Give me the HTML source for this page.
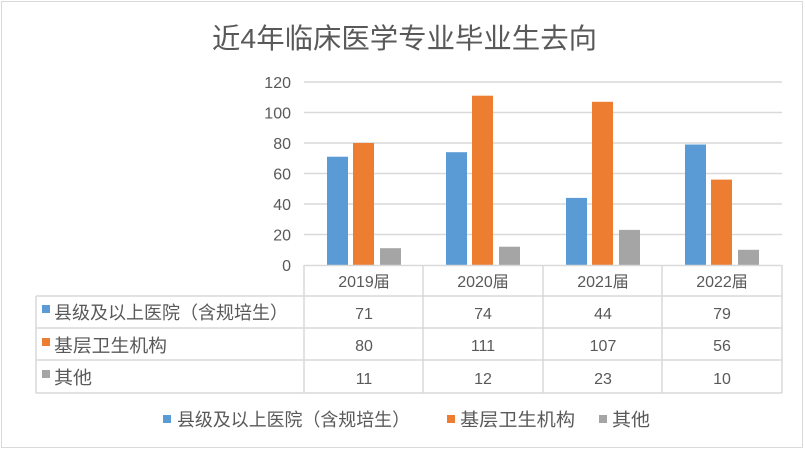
<!DOCTYPE html>
<html><head><meta charset="utf-8"><style>
html,body{margin:0;padding:0;background:#fff;}
svg{display:block;}
text{font-family:"Liberation Sans","Noto Sans CJK SC",sans-serif;fill:#595959;}
</style></head><body>
<svg width="805" height="449" viewBox="0 0 805 449" xmlns="http://www.w3.org/2000/svg">
<rect x="1.5" y="1.5" width="801" height="446" fill="#fff" stroke="#d9d9d9" stroke-width="1"/>
<text x="212" y="48" font-size="28" textLength="385" lengthAdjust="spacingAndGlyphs">近4年临床医学专业毕业生去向</text>
<g stroke="#d9d9d9" stroke-width="1.5">
<line x1="304" y1="82" x2="782" y2="82"/>
<line x1="304" y1="112.5" x2="782" y2="112.5"/>
<line x1="304" y1="143" x2="782" y2="143"/>
<line x1="304" y1="173.5" x2="782" y2="173.5"/>
<line x1="304" y1="204" x2="782" y2="204"/>
<line x1="304" y1="234.5" x2="782" y2="234.5"/>
</g>
<g font-size="16" text-anchor="end">
<text x="291" y="88">120</text><text x="291" y="118.5">100</text><text x="291" y="149">80</text><text x="291" y="179.5">60</text><text x="291" y="210">40</text><text x="291" y="240.5">20</text><text x="291" y="271">0</text>
</g>
<g>
<rect x="327" y="156.7" width="21" height="108.3" fill="#5b9bd5"/>
<rect x="353" y="143" width="21" height="122" fill="#ed7d31"/>
<rect x="380" y="248.2" width="21" height="16.8" fill="#a5a5a5"/>
<rect x="446" y="152.2" width="21" height="112.8" fill="#5b9bd5"/>
<rect x="472" y="95.7" width="21" height="169.3" fill="#ed7d31"/>
<rect x="499" y="246.7" width="21" height="18.3" fill="#a5a5a5"/>
<rect x="566" y="197.9" width="21" height="67.1" fill="#5b9bd5"/>
<rect x="592" y="101.8" width="21" height="163.2" fill="#ed7d31"/>
<rect x="619" y="229.9" width="21" height="35.1" fill="#a5a5a5"/>
<rect x="685" y="144.5" width="21" height="120.5" fill="#5b9bd5"/>
<rect x="711" y="179.6" width="21" height="85.4" fill="#ed7d31"/>
<rect x="738" y="249.8" width="21" height="15.2" fill="#a5a5a5"/>
</g>
<g stroke="#d9d9d9" stroke-width="1.5" fill="none">
<line x1="304" y1="265.5" x2="782" y2="265.5"/>
<line x1="36" y1="296" x2="782" y2="296"/>
<line x1="36" y1="328" x2="782" y2="328"/>
<line x1="36" y1="360" x2="782" y2="360"/>
<line x1="36" y1="393" x2="782" y2="393"/>
<line x1="36" y1="296" x2="36" y2="393"/>
<line x1="304" y1="265" x2="304" y2="393"/>
<line x1="423" y1="265" x2="423" y2="393"/>
<line x1="543" y1="265" x2="543" y2="393"/>
<line x1="662" y1="265" x2="662" y2="393"/>
<line x1="782" y1="265" x2="782" y2="393"/>
</g>
<g font-size="16" text-anchor="middle">
<text x="364" y="287">2019届</text><text x="483" y="287">2020届</text><text x="603" y="287">2021届</text><text x="722" y="287">2022届</text>
<text x="364" y="319">71</text><text x="483" y="319">74</text><text x="603" y="319">44</text><text x="722" y="319">79</text>
<text x="364" y="351">80</text><text x="483" y="351">111</text><text x="603" y="351">107</text><text x="722" y="351">56</text>
<text x="364" y="384">11</text><text x="483" y="384">12</text><text x="603" y="384">23</text><text x="722" y="384">10</text>
</g>
<rect x="42" y="305" width="8" height="8" fill="#5b9bd5"/>
<rect x="42" y="338" width="8" height="8" fill="#ed7d31"/>
<rect x="42" y="370" width="8" height="8" fill="#a5a5a5"/>
<g font-size="18">
<text x="54" y="319" textLength="234" lengthAdjust="spacingAndGlyphs">县级及以上医院（含规培生）</text>
<text x="54" y="352" textLength="113" lengthAdjust="spacingAndGlyphs">基层卫生机构</text>
<text x="54" y="384" textLength="38" lengthAdjust="spacingAndGlyphs">其他</text>
</g>
<rect x="163" y="415" width="8" height="8" fill="#5b9bd5"/>
<rect x="447" y="415" width="8" height="8" fill="#ed7d31"/>
<rect x="599" y="415" width="8" height="8" fill="#a5a5a5"/>
<g font-size="18">
<text x="177" y="426" textLength="233" lengthAdjust="spacingAndGlyphs">县级及以上医院（含规培生）</text>
<text x="460" y="426" textLength="115" lengthAdjust="spacingAndGlyphs">基层卫生机构</text>
<text x="612" y="426" textLength="38" lengthAdjust="spacingAndGlyphs">其他</text>
</g>
</svg>
</body></html>
